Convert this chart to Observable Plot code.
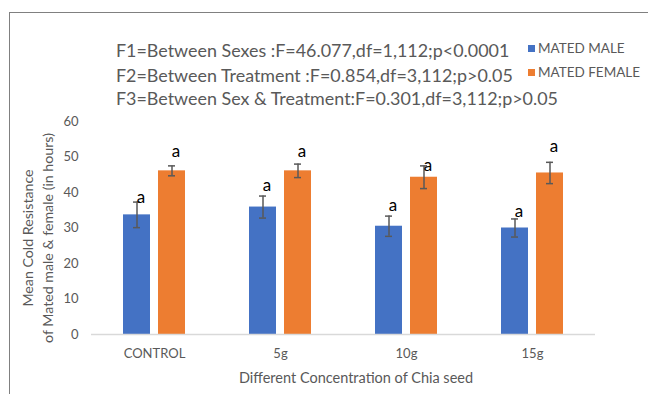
<!DOCTYPE html>
<html><head><meta charset="utf-8">
<script src="https://cdn.jsdelivr.net/npm/d3@7"></script>
<script src="https://cdn.jsdelivr.net/npm/@observablehq/plot@0.6"></script>
<style>
body{margin:0;background:#fff;}
#wrap{position:relative;width:648px;height:394px;overflow:hidden;font-family:Lato,"Open Sans",sans-serif;color:#595959;}
#frame{position:absolute;left:9px;top:12px;width:700px;height:500px;border:1.5px solid #808080;box-sizing:border-box;}
#chart{position:absolute;left:0;top:0;}
.stat{position:absolute;left:116px;font-size:17.9px;line-height:20px;white-space:nowrap;transform:translateY(-50%);}
.leg{position:absolute;left:528px;font-size:13.5px;white-space:nowrap;transform:translateY(-50%);display:flex;align-items:center;}
.leg i{display:inline-block;width:7px;height:7px;margin-right:3px;}
#ytitle{position:absolute;left:38px;top:238px;width:320px;text-align:center;font-size:14.2px;line-height:20px;transform:translate(-50%,-50%) rotate(-90deg);white-space:nowrap;}
#xtitle{position:absolute;left:356px;top:377px;font-size:14.5px;transform:translate(-50%,-50%);white-space:nowrap;}
</style></head>
<body>
<div id="wrap">
  <div id="frame"></div>
  <div id="chart"></div>
  <div id="stats"></div>
  <div id="legend"></div>
  <div id="ytitle"></div>
  <div id="xtitle"></div>
</div>
<script>
const categories = ["CONTROL", "5g", "10g", "15g"];
const series = ["MATED MALE", "MATED FEMALE"];
const colors = ["#4472C4", "#ED7D31"];
const maleMeans = [33.7, 35.9, 30.5, 30.0];
const femaleMeans = [46.1, 46.1, 44.3, 45.5];
const maleErr = [3.6, 3.1, 2.85, 2.55];
const femaleErr = [1.4, 1.9, 3.2, 3.0];
const maleLetters = ["a", "a", "a", "a"];
const femaleLetters = ["a", "a", "a", "a"];
const maleLetterAt = [38.7, 42.0, 36.3, 34.6];
const femaleLetterAt = [51.4, 51.4, 47.6, 53.0];
const yTicks = [0, 10, 20, 30, 40, 50, 60];
const statLines = [
  "F1=Between Sexes :F=46.077,df=1,112;p<0.0001",
  "F2=Between Treatment :F=0.854,df=3,112;p>0.05",
  "F3=Between Sex & Treatment:F=0.301,df=3,112;p>0.05"
];
const yTitle = ["Mean Cold Resistance", "of Mated male & female (in hours)"];
const xTitle = "Different Concentration of Chia seed";

const rows = [];
categories.forEach((c, i) => {
  rows.push({cat: c, sex: series[0], mean: maleMeans[i], err: maleErr[i], letter: maleLetters[i], at: maleLetterAt[i]});
  rows.push({cat: c, sex: series[1], mean: femaleMeans[i], err: femaleErr[i], letter: femaleLetters[i], at: femaleLetterAt[i]});
});

const chart = Plot.plot({
  width: 648, height: 394,
  marginLeft: 90, marginRight: 52, marginTop: 121, marginBottom: 60,
  style: {background: "transparent", fontFamily: "Lato, 'Open Sans', sans-serif", fontSize: "13px", color: "#595959"},
  fx: {domain: categories, padding: 0, label: null, axis: "bottom", tickSize: 0, tickPadding: 14},
  x: {domain: series, paddingInner: 0.222, paddingOuter: 0.868, axis: null},
  y: {domain: [0, 60], ticks: yTicks, tickSize: 0, tickPadding: 13, label: null},
  color: {domain: series, range: colors},
  marks: [
    Plot.barY(rows, {fx: "cat", x: "sex", y: "mean", fill: "sex"}),
    Plot.ruleY([0], {stroke: "#d9d9d9", strokeWidth: 1.5}),
    Plot.ruleX(rows, {fx: "cat", x: "sex", y1: d => d.mean - d.err, y2: d => d.mean + d.err, stroke: "#595959", strokeWidth: 1.5}),
    Plot.tickY(rows, {fx: "cat", x: "sex", y: d => d.mean + d.err, stroke: "#595959", strokeWidth: 1.5, insetLeft: 10, insetRight: 10}),
    Plot.tickY(rows, {fx: "cat", x: "sex", y: d => d.mean - d.err, stroke: "#595959", strokeWidth: 1.5, insetLeft: 10, insetRight: 10}),
    Plot.text(rows, {fx: "cat", x: "sex", y: "at", text: "letter", dx: 4, fill: "#000", fontSize: 17})
  ]
});
document.getElementById("chart").appendChild(chart);

const statYs = [50, 75, 98];
const stats = document.getElementById("stats");
statLines.forEach((t, i) => {
  const d = document.createElement("div");
  d.className = "stat"; d.style.top = statYs[i] + "px"; d.textContent = t;
  stats.appendChild(d);
});
const legYs = [48, 72];
const legend = document.getElementById("legend");
series.forEach((s, i) => {
  const d = document.createElement("div");
  d.className = "leg"; d.style.top = legYs[i] + "px";
  d.innerHTML = `<i style="background:${colors[i]}"></i><span></span>`;
  d.querySelector("span").textContent = s;
  legend.appendChild(d);
});
document.getElementById("ytitle").innerHTML = yTitle.map(t => `<div>${t.replace(/&/g,"&amp;")}</div>`).join("");
document.getElementById("xtitle").textContent = xTitle;
</script>
</body></html>
